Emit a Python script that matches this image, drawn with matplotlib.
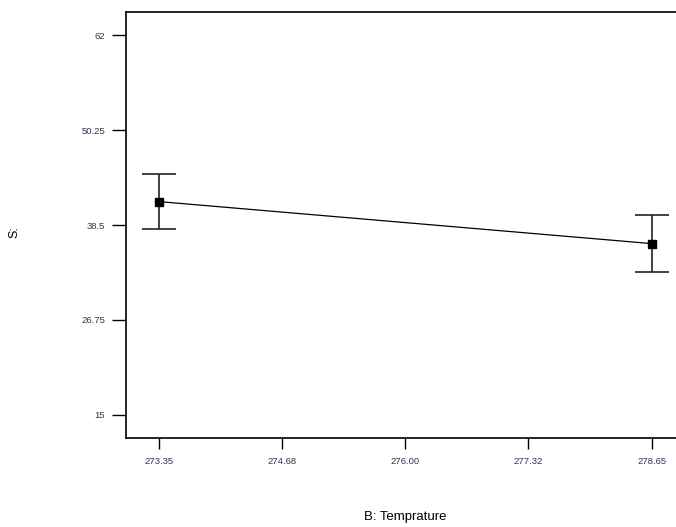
import matplotlib.pyplot as plt

plt.rcParams['font.family'] = ['Liberation Sans', 'DejaVu Sans']

# data
temp = [273.35, 278.65]
s_mean = [41.4, 36.2]
s_err = [3.4, 3.5]
xticks = [273.35, 274.68, 276.00, 277.32, 278.65]
xtick_labels = ['273.35', '274.68', '276.00', '277.32', '278.65']
yticks = [15, 26.75, 38.5, 50.25, 62]
ytick_labels = ['15', '26.75', '38.5', '50.25', '62']

fig = plt.figure(figsize=(6.76, 5.27), dpi=100)
ax = fig.add_axes([0.1864, 0.1689, 0.8256, 0.8083])

ax.plot(temp, s_mean, color='black', lw=0.9)
ax.errorbar(temp, s_mean, yerr=s_err, fmt='s', color='black', ms=6,
            elinewidth=1.2, capsize=12, capthick=1.2, ecolor='#222222')

ax.set_xlim(273.0, 279.0)
ax.set_ylim(12.15, 64.85)
ax.set_xticks(xticks)
ax.set_xticklabels(xtick_labels)
ax.set_yticks(yticks)
ax.set_yticklabels(ytick_labels)
ax.tick_params(axis='both', direction='out', labelsize=6.8, labelcolor='#333355',
               width=1.0, color='black')
ax.tick_params(axis='y', length=10, pad=5)
ax.tick_params(axis='x', length=8, pad=6)

ax.spines['right'].set_visible(False)
for s in ['left', 'bottom', 'top']:
    ax.spines[s].set_linewidth(1.2)

fig.text(0.6, 0.019, 'B: Temprature', fontsize=9.5, ha='center', va='center')
fig.text(0.022, 0.56, 'S:', rotation=90, fontsize=9, ha='center', va='center')

fig.savefig('out.png', dpi=100)
